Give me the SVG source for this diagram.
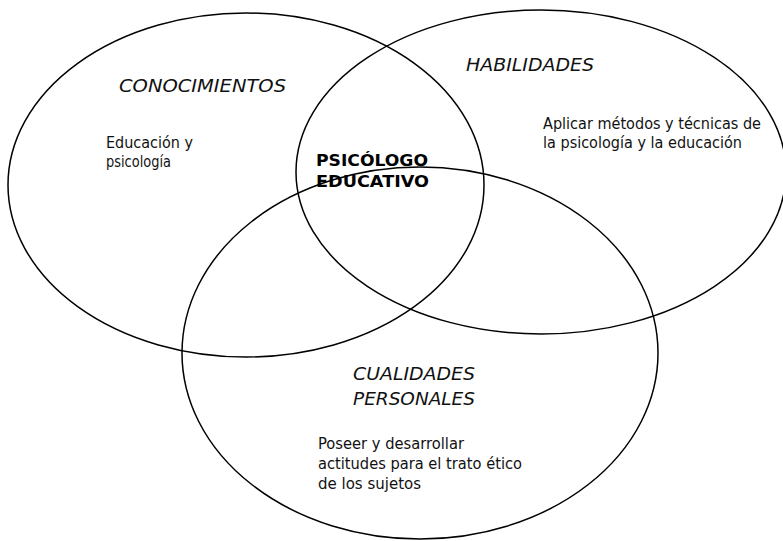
<svg xmlns="http://www.w3.org/2000/svg" width="783" height="541" viewBox="0 0 783 541">
  <style>
    .set { fill: none; stroke: #000; stroke-width: 1.5; }
    .title { font-family: "DejaVu Sans", "Liberation Sans", sans-serif; font-style: italic; font-size: 18.5px; fill: #111; }
    .body { font-family: "DejaVu Sans", "Liberation Sans", sans-serif; font-size: 16.5px; fill: #111; }
    .core { font-family: "DejaVu Sans", "Liberation Sans", sans-serif; font-weight: bold; font-size: 16.5px; fill: #000; }
  </style>
  <rect width="783" height="541" fill="#fff"/>

  <!-- Knowledge set -->
  <g id="conocimientos">
    <ellipse class="set" cx="246" cy="185" rx="238" ry="172"/>
    <text class="title" x="119" y="92" textLength="167" lengthAdjust="spacingAndGlyphs">CONOCIMIENTOS</text>
    <text class="body" x="106" y="147.5" textLength="87" lengthAdjust="spacingAndGlyphs">Educación y</text>
    <text class="body" x="106" y="166.5" textLength="65" lengthAdjust="spacingAndGlyphs">psicología</text>
  </g>

  <!-- Skills set -->
  <g id="habilidades">
    <ellipse class="set" cx="541" cy="172" rx="245" ry="162"/>
    <text class="title" x="466" y="71" textLength="128" lengthAdjust="spacingAndGlyphs">HABILIDADES</text>
    <text class="body" x="543" y="129" textLength="218" lengthAdjust="spacingAndGlyphs">Aplicar métodos y técnicas de</text>
    <text class="body" x="543" y="148" textLength="199" lengthAdjust="spacingAndGlyphs">la psicología y la educación</text>
  </g>

  <!-- Personal qualities set -->
  <g id="cualidades">
    <ellipse class="set" cx="420" cy="353" rx="238" ry="186"/>
    <text class="title" x="353" y="380" textLength="122" lengthAdjust="spacingAndGlyphs">CUALIDADES</text>
    <text class="title" x="353" y="405" textLength="122" lengthAdjust="spacingAndGlyphs">PERSONALES</text>
    <text class="body" x="318" y="449" textLength="146" lengthAdjust="spacingAndGlyphs">Poseer y desarrollar</text>
    <text class="body" x="318" y="469" textLength="204" lengthAdjust="spacingAndGlyphs">actitudes para el trato ético</text>
    <text class="body" x="318" y="489" textLength="103" lengthAdjust="spacingAndGlyphs">de los sujetos</text>
  </g>

  <!-- Shared centre -->
  <g id="psicologo-educativo">
    <text class="core" x="316" y="166" textLength="112" lengthAdjust="spacingAndGlyphs">PSICÓLOGO</text>
    <text class="core" x="316" y="187" textLength="113" lengthAdjust="spacingAndGlyphs">EDUCATIVO</text>
  </g>

  <g id="connectors"></g>
</svg>
